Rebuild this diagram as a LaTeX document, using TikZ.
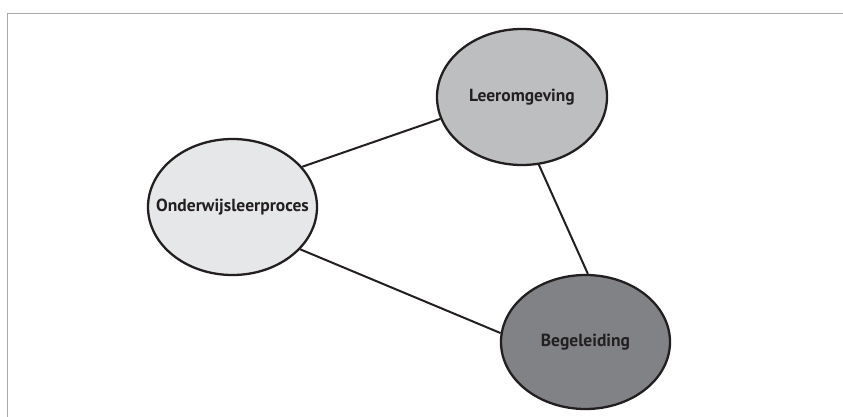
\documentclass[tikz,border=0pt]{standalone}
\usepackage{fontspec}
\setmainfont{PT Sans}
\usetikzlibrary{shapes.geometric}
\definecolor{lichtgrijs}{HTML}{E6E7E8}
\definecolor{middengrijs}{HTML}{BCBEC0}
\definecolor{donkergrijs}{HTML}{808285}
\definecolor{tekst}{HTML}{231F20}
\definecolor{kader}{HTML}{A7A9AC}
\tikzset{
	factor/.style={ellipse,draw=tekst,line width=2.3pt,minimum width=170pt,minimum height=136pt,
		inner sep=0pt},
	naam/.style={text=tekst,font=\bfseries\fontsize{17.5}{20}\selectfont},
	verband/.style={draw=tekst,line width=2pt}
}
\begin{document}
\begin{tikzpicture}[x=1pt,y=-1pt]
		\useasboundingbox (0,0) rectangle (843,417);
		\draw[kader,line width=1.3pt] (7.5,417) -- (7.5,13.5) -- (843,13.5);
		\node[factor,fill=middengrijs] (leer) at (522,97) {};
		\node[factor,fill=lichtgrijs,minimum width=169pt] (onder) at (232.5,207) {};
		\node[factor,fill=donkergrijs,minimum width=169pt,minimum height=134pt] (begel) at (585.5,342) {};
		\node[naam] (leertekst) at (leer) {Leeromgeving};
		\node[naam] (ondertekst) at (onder) {Onderwijsleerproces};
		\node[naam] (begeltekst) at (begel) {Begeleiding};
		\draw[verband] (onder.30) -- (leer.195) (leer.284) -- (begel.88) (onder.328) -- (begel.174);
	\end{tikzpicture}
\end{document}
